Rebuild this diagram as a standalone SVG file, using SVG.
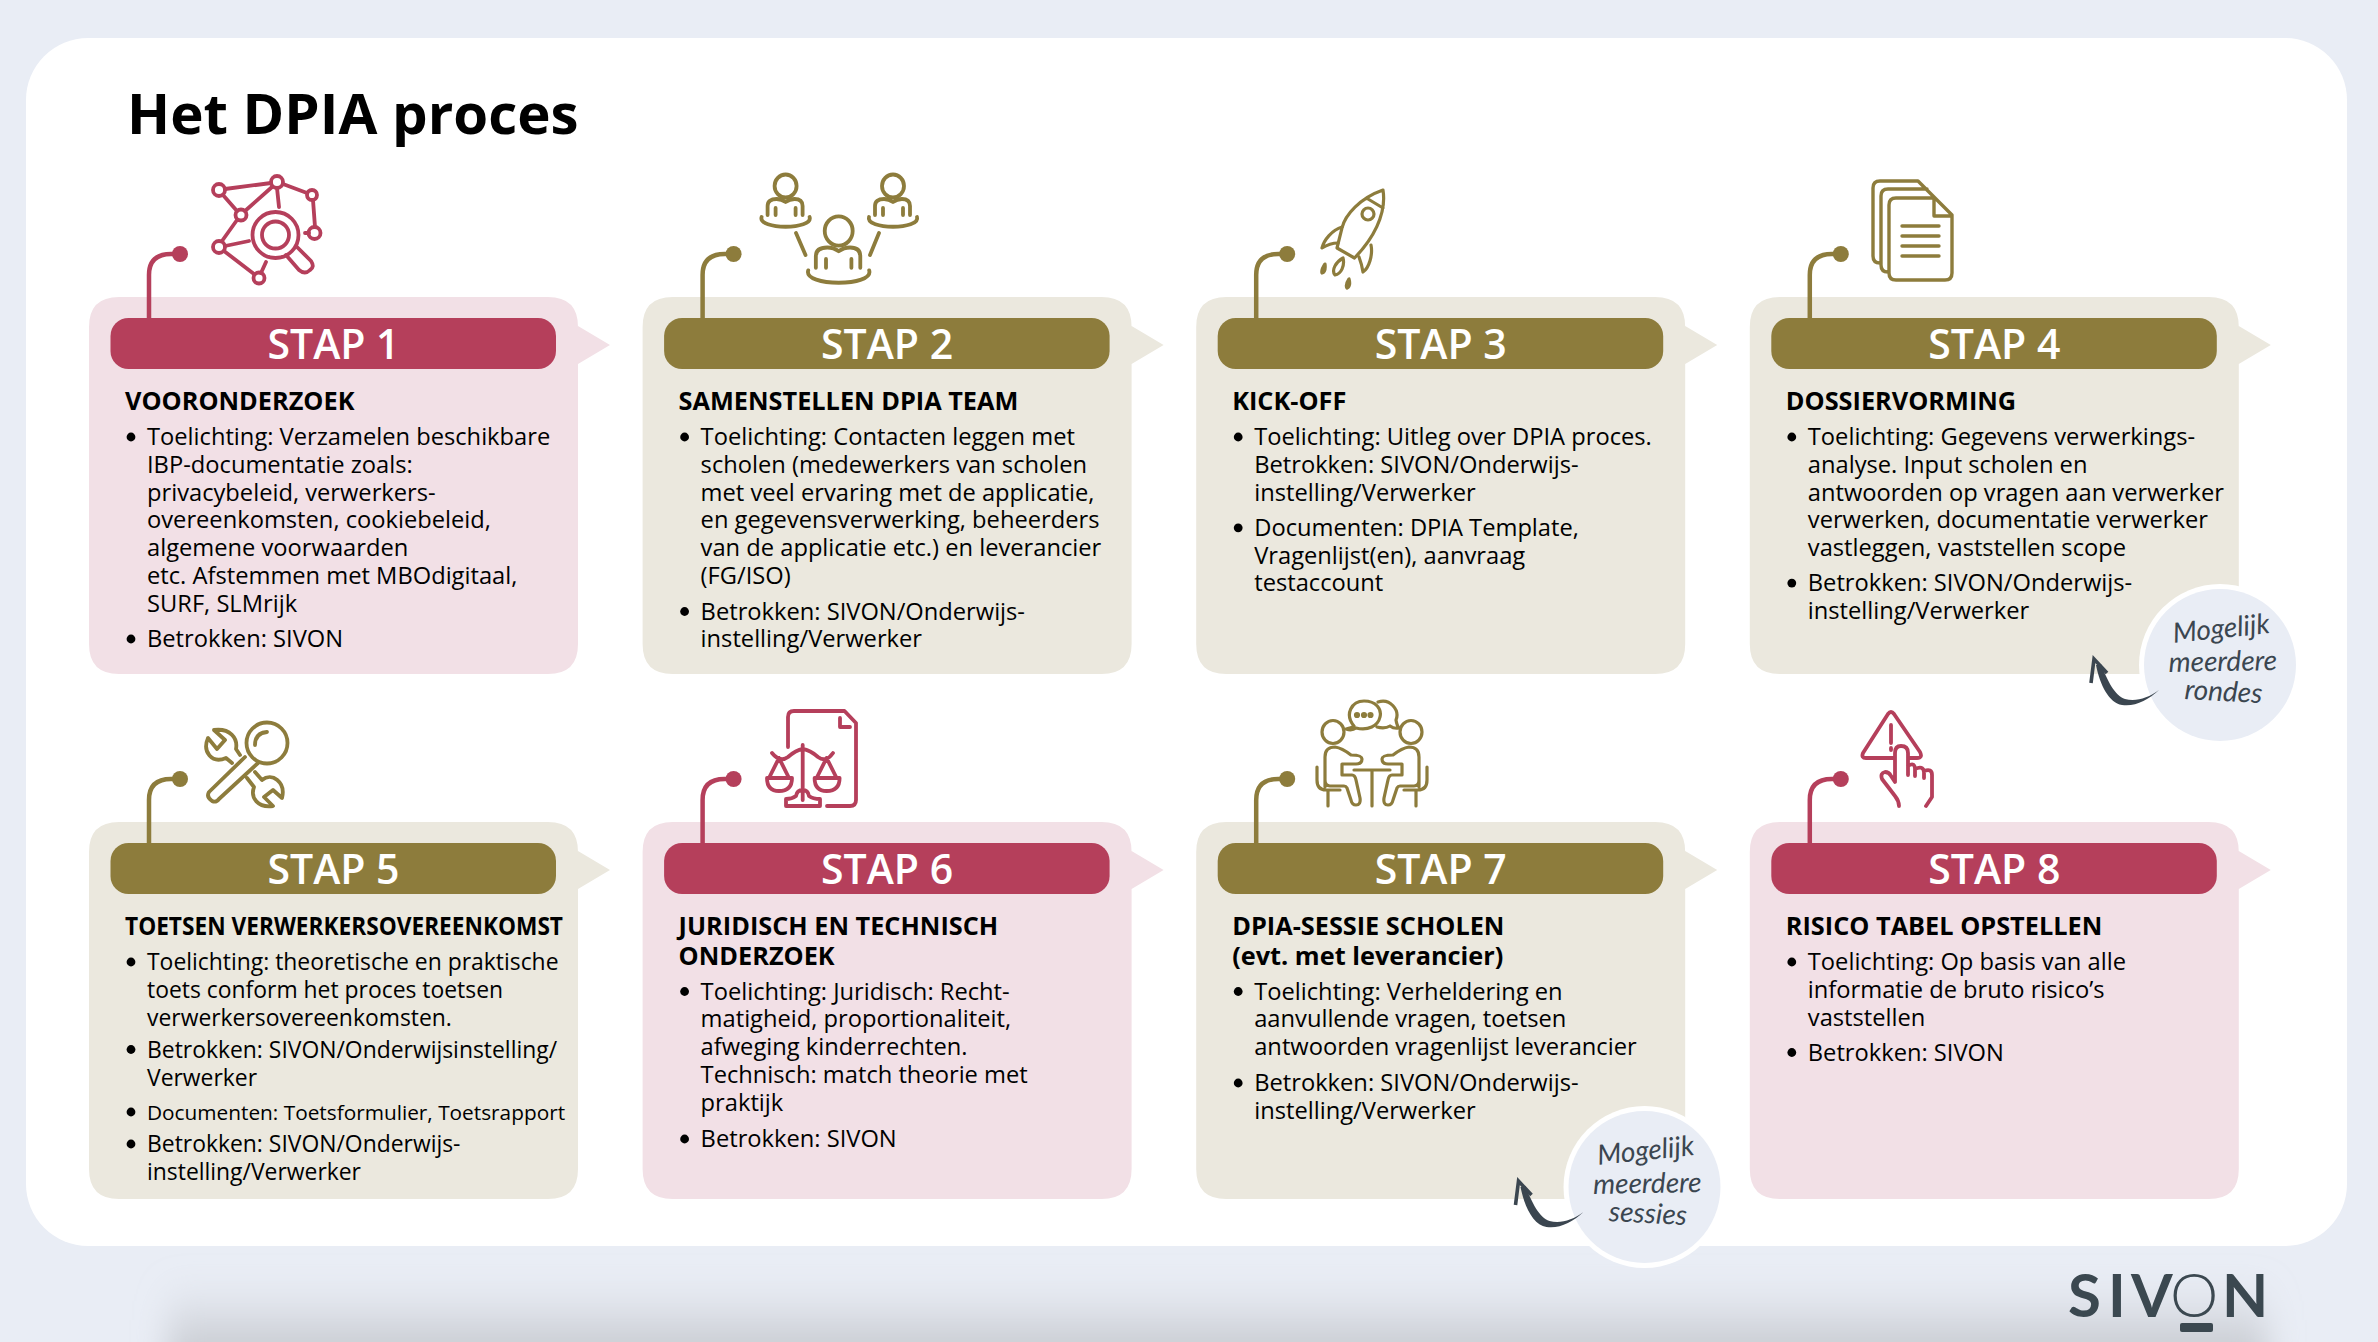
<svg xmlns="http://www.w3.org/2000/svg" xmlns:xlink="http://www.w3.org/1999/xlink" width="2378" height="1342" viewBox="0 0 2378 1342">
<style>
text{font-family:"Open Sans","Noto Sans",sans-serif;fill:#000}
.title{font-size:56.4px;font-weight:700}
.stap{font-size:41px;font-weight:600;fill:#fff;text-anchor:middle}
.h{font-size:25.3px;font-weight:700}
.b{font-size:23.7px}
.c{font-size:22.9px}
.s{font-size:20.8px}
.rose .card{fill:#f2e0e6}.rose .bar{fill:#b53f5b}
.olive .card{fill:#ebe8de}.olive .bar{fill:#8d7c3c}
.icon{fill:none;stroke-width:3.8;stroke-linecap:round;stroke-linejoin:round}
.rose .icon{stroke:#b53f5b}.olive .icon{stroke:#8d7c3c}
.lead{fill:none;stroke-width:4.5}
.lead.r{stroke:#b53f5b}.lead.o{stroke:#8d7c3c}
.dot.r{fill:#b53f5b}.dot.o{fill:#8d7c3c}
.note{font-family:"Lato","Noto Sans",sans-serif;font-style:italic;font-size:28px;fill:#3b4650;text-anchor:middle}
.logo{font-family:"Lato","Open Sans",sans-serif;font-size:60px;font-weight:700;fill:#3b4850}
</style>
<defs>
<path id="card" d="M30 0H459Q489 0 489 30V29L521 48L489 67V347Q489 377 459 377H30Q0 377 0 347V30Q0 0 30 0Z"/>
<circle id="bu" r="4.4"/>
<g id="person"><ellipse cx="0" cy="0" rx="11" ry="11.5"/><path d="M-18 29V20Q-18 13-9 13Q-4 13 0 16Q4 13 9 13Q17 13 17 20V29M-10 22V29M10 22V29M-24 31C-28 44 28 44 24 31"/></g>
<g id="sitter"><ellipse cx="1333" cy="732" rx="11" ry="11.5"/><path d="M1325 787V757Q1325 747 1335 747Q1342 748 1351 755Q1362 755 1362 759Q1362 764 1356 764H1342V775H1352Q1355 775 1356 780L1360 798Q1361 805 1356 805Q1352 805 1351 800L1347 788Q1346 786 1344 786H1330Q1325 786 1325 780M1317 767V780Q1317 790 1326 790H1340M1328 790V806"/></g>
<g id="swoosh"><path d="M-61 25C-72 35-85 42-98 40C-111 38-120 20-124 0L-119 -1C-113 15-105 31-95 34C-84 37-72 33-61 25Z" fill="#3b4650"/><path d="M-129 18L-126 -6L-113 8" fill="none" stroke="#3b4650" stroke-width="3.6" stroke-linejoin="miter"/></g>
<filter id="blur" filterUnits="userSpaceOnUse" x="0" y="1200" width="2378" height="300"><feGaussianBlur stdDeviation="16 28"/></filter>
</defs>

<rect id="background" width="2378" height="1342" fill="#e9edf5"/>
<rect id="shadow" x="168" y="1320" width="2100" height="110" fill="#c7cad0" filter="url(#blur)"/>
<rect id="panel" x="26" y="38" width="2321" height="1208" rx="62" fill="#fff"/>
<text class="title" x="127" y="134">Het DPIA proces</text>

<g id="step-1" class="rose">
<g transform="translate(89,297)"><use href="#card" class="card"/><rect class="bar" x="21.5" y="21" width="445.5" height="51" rx="18"/><text class="stap" x="244.5" y="61.5">STAP 1</text>
<text class="h" x="36" y="113">VOORONDERZOEK</text>
<use href="#bu" x="42" y="140"/><text class="b" x="58" y="148">Toelichting: Verzamelen beschikbare</text><text class="b" x="58" y="175.8">IBP-documentatie zoals:</text><text class="b" x="58" y="203.6">privacybeleid, verwerkers-</text><text class="b" x="58" y="231.4">overeenkomsten, cookiebeleid,</text><text class="b" x="58" y="259.2">algemene voorwaarden</text><text class="b" x="58" y="287">etc. Afstemmen met MBOdigitaal,</text><text class="b" x="58" y="314.8">SURF, SLMrijk</text>
<use href="#bu" x="42" y="342"/><text class="b" x="58" y="350">Betrokken: SIVON</text></g>
<g class="icon"><circle cx="219" cy="190" r="6"/><circle cx="277" cy="182" r="6"/><circle cx="312" cy="195" r="5"/><circle cx="314.5" cy="233" r="6"/><circle cx="241" cy="215" r="5.5"/><circle cx="219" cy="247" r="6"/><circle cx="259" cy="278" r="5.5"/><path d="M225 189L271 183M223 195L237 211M245 211L272 187M277 188L279 207M283 184L307 193M313 200L315 227M237 220L222 241M225 246L249 241M224 251L254 274M261 273L266 262M305 233H309"/><circle cx="275.5" cy="235" r="23"/><circle cx="275.5" cy="235" r="13.5"/><path d="M297 247L311 261Q315 267 310 270Q305 275 299 270L286 255"/></g>
</g>

<g id="step-2" class="olive">
<g transform="translate(642.6,297)"><use href="#card" class="card"/><rect class="bar" x="21.5" y="21" width="445.5" height="51" rx="18"/><text class="stap" x="244.5" y="61.5">STAP 2</text>
<text class="h" x="36" y="113">SAMENSTELLEN DPIA TEAM</text>
<use href="#bu" x="42" y="140"/><text class="b" x="58" y="148">Toelichting: Contacten leggen met</text><text class="b" x="58" y="175.8">scholen (medewerkers van scholen</text><text class="b" x="58" y="203.6">met veel ervaring met de applicatie,</text><text class="b" x="58" y="231.4">en gegevensverwerking, beheerders</text><text class="b" x="58" y="259.2">van de applicatie etc.) en leverancier</text><text class="b" x="58" y="287">(FG/ISO)</text>
<use href="#bu" x="42" y="314.5"/><text class="b" x="58" y="322.5">Betrokken: SIVON/Onderwijs-</text><text class="b" x="58" y="350.3">instelling/Verwerker</text></g>
<g class="icon"><use href="#person" x="785.6" y="186"/><use href="#person" x="893" y="186"/><use href="#person" transform="translate(838.7,231) scale(1.27)" stroke-width="3"/><path d="M796 233L805.5 255M879 233L870 255"/></g>
</g>

<g id="step-3" class="olive">
<g transform="translate(1196.2,297)"><use href="#card" class="card"/><rect class="bar" x="21.5" y="21" width="445.5" height="51" rx="18"/><text class="stap" x="244.5" y="61.5">STAP 3</text>
<text class="h" x="36" y="113">KICK-OFF</text>
<use href="#bu" x="42" y="140"/><text class="b" x="58" y="148">Toelichting: Uitleg over DPIA proces.</text><text class="b" x="58" y="175.8">Betrokken: SIVON/Onderwijs-</text><text class="b" x="58" y="203.6">instelling/Verwerker</text>
<use href="#bu" x="42" y="230.8"/><text class="b" x="58" y="238.8">Documenten: DPIA Template,</text><text class="b" x="58" y="266.6">Vragenlijst(en), aanvraag</text><text class="b" x="58" y="294.4">testaccount</text></g>
<g class="icon" style="stroke-width:3.2"><path d="M1383 190C1360 198 1345 215 1342 228L1337 248L1354.5 258C1372 240 1387 215 1383 190ZM1368 199L1383 208"/><circle cx="1368" cy="214" r="6"/><path d="M1342 227C1332 230 1324 240 1322 248Q1330 243 1338 243M1371 245C1373 255 1369 268 1363 272Q1362 265 1359 257M1343 258C1336 262 1331 270 1335 275C1341 274 1345 266 1343 258ZM1325 264Q1321 270 1322 273Q1326 272 1325 264ZM1349 279Q1345 285 1347 288Q1351 286 1349 279Z"/></g>
</g>

<g id="step-4" class="olive">
<g transform="translate(1749.8,297)"><use href="#card" class="card"/><rect class="bar" x="21.5" y="21" width="445.5" height="51" rx="18"/><text class="stap" x="244.5" y="61.5">STAP 4</text>
<text class="h" x="36" y="113">DOSSIERVORMING</text>
<use href="#bu" x="42" y="140"/><text class="b" x="58" y="148">Toelichting: Gegevens verwerkings-</text><text class="b" x="58" y="175.8">analyse. Input scholen en</text><text class="b" x="58" y="203.6">antwoorden op vragen aan verwerker</text><text class="b" x="58" y="231.4">verwerken, documentatie verwerker</text><text class="b" x="58" y="259.2">vastleggen, vaststellen scope</text>
<use href="#bu" x="42" y="286.1"/><text class="b" x="58" y="294.1">Betrokken: SIVON/Onderwijs-</text><text class="b" x="58" y="322">instelling/Verwerker</text></g>
<g class="icon" style="stroke-width:3.4"><path d="M1918 181H1880Q1873 181 1873 188V256Q1873 263 1880 263M1927 189H1888Q1881 189 1881 196V265Q1881 272 1888 272M1934 198H1896Q1889 198 1889 205V273Q1889 280 1896 280H1945Q1952 280 1952 273V215L1918 181M1934 199V216H1952M1902 226H1939M1902 236H1939M1902 246H1939M1902 256H1939"/></g>
</g>

<g id="step-5" class="olive">
<g transform="translate(89,822)"><use href="#card" class="card"/><rect class="bar" x="21.5" y="21" width="445.5" height="51" rx="18"/><text class="stap" x="244.5" y="61.5">STAP 5</text>
<text class="h" x="36" y="113" textLength="438" lengthAdjust="spacingAndGlyphs">TOETSEN VERWERKERSOVEREENKOMST</text>
<use href="#bu" x="42" y="140"/><text class="c" x="58" y="148">Toelichting: theoretische en praktische</text><text class="c" x="58" y="176">toets conform het proces toetsen</text><text class="c" x="58" y="203.8">verwerkersovereenkomsten.</text>
<use href="#bu" x="42" y="227.5"/><text class="c" x="58" y="235.5">Betrokken: SIVON/Onderwijsinstelling/</text><text class="c" x="58" y="263.5">Verwerker</text>
<use href="#bu" x="42" y="290"/><text class="s" x="58" y="297.5">Documenten: Toetsformulier, Toetsrapport</text>
<use href="#bu" x="42" y="322"/><text class="c" x="58" y="330">Betrokken: SIVON/Onderwijs-</text><text class="c" x="58" y="357.6">instelling/Verwerker</text></g>
<g class="icon"><circle cx="267" cy="743" r="20.5"/><path d="M255 745Q255 733 267 732M245 757L209 792Q206 797 212 801Q216 803 219 799L258 763M240 755L236 749C238 738 230 728 214 730L225 740L217 749L208 738C202 752 212 764 226 758L232 763M255 772L262 780C272 772 286 782 282 798L273 790L264 797L273 806C258 808 250 798 254 787L247 778"/></g>
</g>

<g id="step-6" class="rose">
<g transform="translate(642.6,822)"><use href="#card" class="card"/><rect class="bar" x="21.5" y="21" width="445.5" height="51" rx="18"/><text class="stap" x="244.5" y="61.5">STAP 6</text>
<text class="h" x="36" y="113">JURIDISCH EN TECHNISCH</text><text class="h" x="36" y="142.5">ONDERZOEK</text>
<use href="#bu" x="42" y="169.5"/><text class="b" x="58" y="177.5">Toelichting: Juridisch: Recht-</text><text class="b" x="58" y="205.3">matigheid, proportionaliteit,</text><text class="b" x="58" y="233.1">afweging kinderrechten.</text><text class="b" x="58" y="260.9">Technisch: match theorie met</text><text class="b" x="58" y="288.7">praktijk</text>
<use href="#bu" x="42" y="317"/><text class="b" x="58" y="325">Betrokken: SIVON</text></g>
<g class="icon"><path d="M788 747V717Q788 711 794 711H844.5L856 723V800Q856 806 850 806H827M840 718V727H850M802.7 745V800M772 753Q780 763 788 757Q796 750 802.7 749Q810 750 818 757Q826 763 833 753M779 758L769 778M779 758L789 778M767 778H792Q792 791 779 791Q767 791 767 778ZM826.6 758L816.6 778M826.6 758L836.6 778M814.6 778H839.6Q839.6 791 826.6 791Q814.6 791 814.6 778ZM786 806V799Q792 799 796 796Q797 790 802.7 790Q808 790 809 796Q813 799 820 799V806Z"/></g>
</g>

<g id="step-7" class="olive">
<g transform="translate(1196.2,822)"><use href="#card" class="card"/><rect class="bar" x="21.5" y="21" width="445.5" height="51" rx="18"/><text class="stap" x="244.5" y="61.5">STAP 7</text>
<text class="h" x="36" y="113">DPIA-SESSIE SCHOLEN</text><text class="h" x="36" y="142.5">(evt. met leverancier)</text>
<use href="#bu" x="42" y="169.5"/><text class="b" x="58" y="177.5">Toelichting: Verheldering en</text><text class="b" x="58" y="205.3">aanvullende vragen, toetsen</text><text class="b" x="58" y="233.1">antwoorden vragenlijst leverancier</text>
<use href="#bu" x="42" y="261"/><text class="b" x="58" y="269">Betrokken: SIVON/Onderwijs-</text><text class="b" x="58" y="296.6">instelling/Verwerker</text></g>
<g class="icon" style="stroke-width:3.2"><use href="#sitter"/><use href="#sitter" transform="translate(2744,0) scale(-1,1)"/><path d="M1354 770H1390M1372 770V806M1354 726C1344 714 1352 701 1364 701C1376 701 1382 709 1380 717C1378 726 1368 731 1356 728Q1352 731 1346 729Q1352 728 1354 726ZM1378 702C1390 698 1400 710 1396 720Q1397 726 1399 728Q1394 729 1390 726Q1385 729 1377 727"/><circle cx="1357" cy="715" r="1.5"/><circle cx="1364" cy="715" r="1.5"/><circle cx="1370.5" cy="715" r="1.5"/></g>
</g>

<g id="step-8" class="rose">
<g transform="translate(1749.8,822)"><use href="#card" class="card"/><rect class="bar" x="21.5" y="21" width="445.5" height="51" rx="18"/><text class="stap" x="244.5" y="61.5">STAP 8</text>
<text class="h" x="36" y="113">RISICO TABEL OPSTELLEN</text>
<use href="#bu" x="42" y="140"/><text class="b" x="58" y="148">Toelichting: Op basis van alle</text><text class="b" x="58" y="175.8">informatie de bruto risico’s</text><text class="b" x="58" y="203.6">vaststellen</text>
<use href="#bu" x="42" y="230.5"/><text class="b" x="58" y="238.5">Betrokken: SIVON</text></g>
<g class="icon"><path d="M1894 758H1866Q1861 758 1863 753L1888 714Q1891 710 1894 714L1920 752Q1923 758 1917 758H1908M1891 725V743M1891 748V750M1899 806Q1899 801 1895 796L1882 779Q1880 773 1885 772Q1889 772 1891 776L1895 782V753Q1895 746 1901 746Q1908 746 1908 753V775M1908 766Q1914 762 1915 768V776M1915 769Q1923 765 1924 772V778M1924 771Q1932 768 1932 775V797L1926 806"/></g>
</g>

<g id="note-rondes" transform="translate(2220,665)"><circle r="81" fill="#fff"/><circle r="76" fill="#e9edf5"/>
<text class="note" transform="translate(2,-27) rotate(-6)">Mogelijk</text><text class="note" transform="translate(3,6) rotate(-1)">meerdere</text><text class="note" transform="translate(3,36) rotate(3)">rondes</text></g>
<g id="note-sessies" transform="translate(1644.5,1187)"><circle r="81" fill="#fff"/><circle r="76" fill="#e9edf5"/>
<text class="note" transform="translate(2,-27) rotate(-6)">Mogelijk</text><text class="note" transform="translate(3,6) rotate(-1)">meerdere</text><text class="note" transform="translate(3,36) rotate(3)">sessies</text></g>

<g id="connectors">
<g transform="translate(89,297)"><path class="lead r" d="M60 21V-22Q60-43 82-43H91"/><circle class="dot r" cx="91" cy="-43" r="8"/></g>
<g transform="translate(642.6,297)"><path class="lead o" d="M60 21V-22Q60-43 82-43H91"/><circle class="dot o" cx="91" cy="-43" r="8"/></g>
<g transform="translate(1196.2,297)"><path class="lead o" d="M60 21V-22Q60-43 82-43H91"/><circle class="dot o" cx="91" cy="-43" r="8"/></g>
<g transform="translate(1749.8,297)"><path class="lead o" d="M60 21V-22Q60-43 82-43H91"/><circle class="dot o" cx="91" cy="-43" r="8"/></g>
<g transform="translate(89,822)"><path class="lead o" d="M60 21V-22Q60-43 82-43H91"/><circle class="dot o" cx="91" cy="-43" r="8"/></g>
<g transform="translate(642.6,822)"><path class="lead r" d="M60 21V-22Q60-43 82-43H91"/><circle class="dot r" cx="91" cy="-43" r="8"/></g>
<g transform="translate(1196.2,822)"><path class="lead o" d="M60 21V-22Q60-43 82-43H91"/><circle class="dot o" cx="91" cy="-43" r="8"/></g>
<g transform="translate(1749.8,822)"><path class="lead r" d="M60 21V-22Q60-43 82-43H91"/><circle class="dot r" cx="91" cy="-43" r="8"/></g>
<use href="#swoosh" x="2220" y="665"/>
<use href="#swoosh" x="1644.5" y="1187"/>
</g>

<g id="logo"><text class="logo" y="1317"><tspan x="2068">S</tspan><tspan x="2108">I</tspan><tspan x="2131">V</tspan><tspan x="2170" font-weight="300" style="font-size:61px">O</tspan><tspan x="2222">N</tspan></text><rect x="2180" y="1323" width="33" height="9" rx="2" fill="#3b4850"/></g>
</svg>
